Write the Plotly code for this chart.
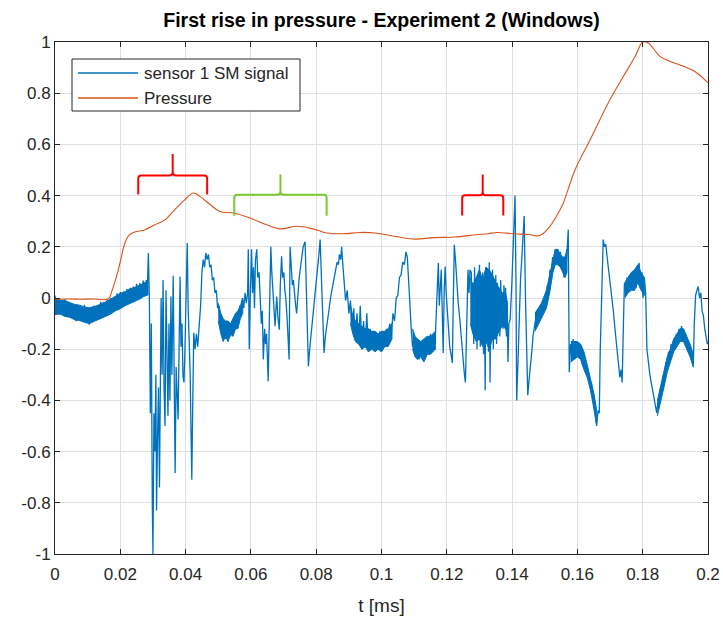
import plotly.graph_objects as go

# ---------------------------------------------------------------- data
# Pressure trace (normalised), sampled at irregular times [ms]
pressure_t = [0.000, 0.004, 0.008, 0.012, 0.0163, 0.0175, 0.0185, 0.0194, 0.0204,
              0.0214, 0.0225, 0.024, 0.0276, 0.0306, 0.0337, 0.0362, 0.038, 0.0398,
              0.0423, 0.0444, 0.0475, 0.0505, 0.0546, 0.0597, 0.0648, 0.069, 0.074,
              0.079, 0.0832, 0.0883, 0.0934, 0.098, 0.1045, 0.1103, 0.116, 0.1225,
              0.129, 0.1327, 0.1353, 0.1404, 0.1450, 0.1485, 0.1516, 0.1547, 0.1557,
              0.1593, 0.1639, 0.170, 0.1741, 0.1777, 0.180, 0.1817, 0.1853, 0.1884,
              0.1925, 0.1966, 0.200]
pressure_v = [-0.005, -0.004, -0.005, -0.004, -0.004, 0.03, 0.07, 0.11, 0.165,
              0.215, 0.243, 0.256, 0.267, 0.286, 0.305, 0.338, 0.362, 0.384,
              0.41, 0.397, 0.365, 0.338, 0.332, 0.3125, 0.286, 0.27, 0.28,
              0.27, 0.254, 0.251, 0.256, 0.254, 0.24, 0.23, 0.236, 0.238,
              0.247, 0.251, 0.256, 0.251, 0.248, 0.244, 0.28, 0.345, 0.371,
              0.501, 0.618, 0.775, 0.866, 0.944, 1.0, 0.996, 0.944, 0.924,
              0.905, 0.879, 0.84]

# Sensor signal before the pressure wave: uniform samples, 0.0005 ms apart from t = 0
sm_baseline_dt = 0.0005
sm_baseline = [0.010, -0.054, -0.005, -0.066, -0.010, -0.059, -0.005, -0.072, -0.027, -0.075,
               -0.020, -0.077, -0.030, -0.091, -0.027, -0.079, -0.038, -0.093, -0.027, -0.092,
               -0.040, -0.104, -0.035, -0.091, -0.030, -0.081, -0.028, -0.081, -0.015, -0.065,
               -0.015, -0.068, -0.005, -0.056, 0.000, -0.054, 0.005, -0.044, 0.018, -0.034,
               0.023, -0.032, 0.025, -0.025, 0.035, -0.016, 0.040, -0.014, 0.045, -0.003,
               0.055, 0.002, 0.058, 0.009, 0.068, 0.019, 0.070]

# Sensor signal after the wave arrives: (t [ms], value) pairs
sm_burst = [(0.0283, 0.05), (0.0286, 0.176), (0.0289, 0.00), (0.0292, -0.45), (0.0295, -0.10),
            (0.0298, -0.80), (0.0300, -1.0), (0.0303, -0.45), (0.0306, -0.60), (0.0309, -0.30),
            (0.0311, -0.83), (0.0314, -0.55), (0.0317, -0.35), (0.0320, -0.74), (0.0322, -0.40),
            (0.0325, 0.0), (0.0328, -0.30), (0.0331, 0.07), (0.0334, -0.35), (0.0337, -0.50),
            (0.0340, 0.03), (0.0343, -0.25), (0.0346, -0.46), (0.0349, -0.10), (0.0352, -0.40),
            (0.0355, 0.006), (0.0358, -0.30), (0.0362, 0.087), (0.0365, -0.35), (0.0368, -0.684),
            (0.0371, -0.27), (0.0374, -0.40), (0.0377, -0.475), (0.0380, -0.20), (0.0383, 0.084),
            (0.0386, -0.19), (0.0389, -0.10), (0.0392, -0.306), (0.0395, -0.33), (0.0398, -0.20),
            (0.0402, 0.0), (0.0405, 0.215), (0.0408, -0.046), (0.0411, -0.15), (0.0414, -0.30),
            (0.0417, -0.55), (0.0419, -0.71), (0.0422, -0.40), (0.0425, -0.136), (0.0429, -0.20),
            (0.0433, -0.14), (0.0437, -0.19), (0.0441, -0.11), (0.0446, -0.03), (0.0450, 0.10),
            (0.0454, 0.15), (0.0458, 0.12), (0.0462, 0.176)]

sm_hump = [(0.0466, 0.15), (0.0470, 0.17), (0.0474, 0.12), (0.0478, 0.13), (0.0482, 0.07),
           (0.0486, 0.08), (0.0490, 0.02), (0.0494, 0.03), (0.0498, -0.04), (0.0502, -0.03),
           (0.0506, -0.10), (0.0510, -0.07), (0.0514, -0.15), (0.0518, -0.09), (0.0522, -0.16),
           (0.0526, -0.10), (0.0530, -0.17), (0.0534, -0.11), (0.0538, -0.15), (0.0542, -0.09),
           (0.0546, -0.14), (0.0550, -0.08), (0.0554, -0.12), (0.0558, -0.06), (0.0562, -0.10),
           (0.0566, -0.03), (0.0570, -0.06), (0.0574, 0.00), (0.0578, -0.04), (0.0582, 0.02),
           (0.0586, -0.02)]

sm_oscill = [(0.0590, 0.02), (0.0592, 0.19), (0.0595, -0.20), (0.0598, 0.0), (0.0602, 0.19),
             (0.0605, 0.02), (0.0608, 0.12), (0.0611, -0.04), (0.0614, 0.15), (0.0618, 0.19),
             (0.0621, 0.08), (0.0625, 0.10), (0.0628, 0.0), (0.0632, -0.10), (0.0635, -0.05),
             (0.0638, -0.24), (0.0642, -0.12), (0.0645, -0.18), (0.0648, -0.14), (0.0651, -0.25),
             (0.0653, -0.325), (0.0657, -0.05), (0.0661, 0.20), (0.0664, 0.10), (0.0667, 0.02),
             (0.0671, -0.06), (0.0674, -0.11), (0.0677, -0.04), (0.0679, 0.006), (0.0683, -0.08),
             (0.0687, -0.124), (0.0690, 0.05), (0.0694, 0.163), (0.0697, 0.08), (0.0701, 0.10),
             (0.0704, 0.03), (0.0707, 0.0), (0.0711, -0.08), (0.0715, -0.163), (0.0717, -0.24),
             (0.0720, 0.20), (0.0723, 0.12), (0.0727, 0.05), (0.0730, 0.07), (0.0734, 0.0),
             (0.0737, -0.03), (0.0740, -0.06), (0.0744, 0.02), (0.0748, 0.08), (0.0752, 0.12),
             (0.0756, 0.17), (0.0760, 0.20), (0.0766, 0.22), (0.0769, 0.10), (0.0772, -0.08),
             (0.0776, -0.267), (0.0780, -0.20), (0.0784, -0.15), (0.0788, -0.08), (0.0792, -0.03),
             (0.0796, 0.02), (0.0799, 0.04), (0.0802, 0.07), (0.0806, 0.13), (0.0809, 0.18),
             (0.0812, 0.228), (0.0815, 0.10), (0.0818, -0.05), (0.0821, -0.17), (0.0824, -0.215),
             (0.0828, -0.15), (0.0832, -0.11), (0.0836, -0.06), (0.0840, -0.03), (0.0844, 0.0),
             (0.0848, 0.03), (0.0852, 0.06), (0.0856, 0.08), (0.0860, 0.11), (0.0864, 0.14),
             (0.0868, 0.13), (0.0871, 0.17), (0.0875, 0.15), (0.0878, 0.20), (0.0881, 0.14),
             (0.0884, 0.10), (0.0887, 0.06)]

sm_plateau = [(0.0890, -0.01), (0.0895, 0.03), (0.0900, -0.06), (0.0905, -0.01), (0.0910, -0.12),
              (0.0915, -0.04), (0.0920, -0.16), (0.0925, -0.06), (0.0930, -0.18), (0.0935, -0.03),
              (0.0940, -0.20), (0.0945, -0.09), (0.0950, -0.19), (0.0955, -0.06), (0.0960, -0.21),
              (0.0965, -0.12), (0.0970, -0.20), (0.0975, -0.13), (0.0980, -0.21), (0.0985, -0.14),
              (0.0990, -0.20), (0.0995, -0.13), (0.1000, -0.21), (0.1005, -0.14), (0.1010, -0.19),
              (0.1015, -0.12), (0.1020, -0.17), (0.1025, -0.10), (0.1030, -0.15)]

sm_mid = [(0.1035, -0.06), (0.1040, -0.09), (0.1045, 0.00), (0.1050, 0.01), (0.1055, 0.08),
          (0.1060, 0.09), (0.1065, 0.14), (0.1070, 0.13), (0.1075, 0.18), (0.1079, 0.16),
          (0.1083, 0.07), (0.1087, -0.05), (0.1091, -0.12), (0.1095, -0.19), (0.1100, -0.15),
          (0.1105, -0.23), (0.1110, -0.17), (0.1115, -0.24), (0.1120, -0.18), (0.1125, -0.23),
          (0.1130, -0.16), (0.1135, -0.22), (0.1140, -0.15), (0.1145, -0.21), (0.1150, -0.14),
          (0.1155, -0.20), (0.1160, -0.14), (0.1164, -0.18), (0.1168, -0.06), (0.1171, 0.08),
          (0.1174, 0.137), (0.1177, -0.03), (0.1180, 0.04), (0.1183, 0.11), (0.1186, -0.05),
          (0.1189, -0.215), (0.1192, 0.03), (0.1195, 0.123), (0.1198, 0.02), (0.1201, -0.04),
          (0.1205, -0.12), (0.1209, -0.19), (0.1213, -0.22), (0.1217, -0.254), (0.1220, 0.00),
          (0.1223, 0.208), (0.1227, 0.14), (0.1231, 0.05), (0.1235, -0.02), (0.1240, -0.085),
          (0.1245, -0.17), (0.1250, -0.25), (0.1254, -0.30), (0.1257, -0.33), (0.1261, -0.10),
          (0.1265, 0.11), (0.1268, 0.02), (0.1271, 0.11)]

sm_dense = [(0.12750, 0.10), (0.12775, -0.12), (0.12800, 0.06), (0.12825, -0.18), (0.12850, 0.12),
            (0.12875, -0.10), (0.12900, 0.02), (0.12925, -0.20), (0.12950, 0.08), (0.12975, -0.15),
            (0.13000, 0.13), (0.13025, -0.19), (0.13050, 0.05), (0.13075, -0.14), (0.13100, 0.10),
            (0.13125, -0.22), (0.13150, 0.06), (0.13175, -0.36), (0.13200, 0.12), (0.13225, -0.17),
            (0.13250, 0.04), (0.13275, -0.21), (0.13300, 0.14), (0.13325, -0.33), (0.13350, 0.08),
            (0.13375, -0.16), (0.13400, 0.11), (0.13425, -0.20), (0.13450, 0.03), (0.13475, -0.13),
            (0.13500, 0.09), (0.13525, -0.18), (0.13550, 0.06), (0.13575, -0.12), (0.13600, 0.04),
            (0.13625, -0.15), (0.13650, 0.07), (0.13675, -0.10), (0.13700, 0.02), (0.13725, -0.12),
            (0.13750, 0.05), (0.13775, -0.08), (0.13800, 0.04), (0.13825, -0.15), (0.13850, -0.05),
            (0.13875, -0.25), (0.13900, -0.10)]

sm_spikes = [(0.1394, -0.085), (0.1399, 0.05), (0.1404, 0.22), (0.1409, 0.40), (0.1412, 0.05),
             (0.1414, -0.40), (0.1418, -0.25), (0.1422, -0.05), (0.1426, 0.08), (0.1430, 0.16),
             (0.1434, 0.25), (0.1437, 0.32), (0.1441, 0.0), (0.1445, -0.25), (0.1448, -0.38),
             (0.1452, -0.32), (0.1456, -0.25), (0.1460, -0.215), (0.1464, -0.15), (0.1468, -0.11),
             (0.1472, -0.085), (0.1476, -0.05), (0.1480, -0.07), (0.1484, -0.04)]

sm_tail = [(0.1488, -0.08), (0.1492, -0.02), (0.1496, -0.06), (0.1500, 0.01), (0.1504, -0.02),
           (0.1508, 0.05), (0.1512, 0.02), (0.1516, 0.11), (0.1520, 0.08), (0.1524, 0.16),
           (0.1528, 0.13), (0.1532, 0.19), (0.1536, 0.14), (0.1540, 0.19), (0.1544, 0.14),
           (0.1548, 0.18), (0.1552, 0.12), (0.1556, 0.15), (0.1559, 0.08), (0.1562, 0.16),
           (0.1565, 0.11), (0.1568, 0.20), (0.1572, 0.267), (0.1575, -0.29), (0.1579, -0.18),
           (0.1583, -0.23), (0.1587, -0.16), (0.1591, -0.24), (0.1595, -0.17), (0.1599, -0.22),
           (0.1603, -0.18), (0.1607, -0.23), (0.1611, -0.19), (0.1615, -0.26), (0.1619, -0.22),
           (0.1623, -0.28), (0.1627, -0.26), (0.1631, -0.31), (0.1635, -0.30), (0.1639, -0.34),
           (0.1643, -0.33), (0.1647, -0.39), (0.1651, -0.38), (0.1655, -0.45), (0.1659, -0.50),
           (0.1663, -0.44), (0.1667, -0.45), (0.1670, -0.20), (0.1674, 0.05), (0.1679, 0.228),
           (0.1683, 0.20), (0.1687, 0.21), (0.1691, 0.16), (0.1695, 0.12), (0.1700, 0.07),
           (0.1705, 0.02), (0.1710, -0.05), (0.1715, -0.12), (0.1720, -0.18), (0.1725, -0.26),
           (0.1730, -0.31), (0.1734, -0.28), (0.1737, -0.33), (0.1741, -0.10), (0.1744, 0.059),
           (0.1748, 0.02), (0.1752, 0.08), (0.1756, 0.03), (0.1760, 0.09), (0.1764, 0.04),
           (0.1768, 0.10), (0.1772, 0.05), (0.1776, 0.11), (0.1780, 0.04), (0.1784, 0.12),
           (0.1789, 0.137), (0.1793, 0.04), (0.1797, 0.10), (0.1801, 0.0), (0.1805, 0.08),
           (0.1809, 0.02), (0.1813, -0.20), (0.1817, -0.25), (0.1822, -0.30), (0.1826, -0.33),
           (0.1830, -0.36), (0.1834, -0.38), (0.1838, -0.42), (0.1843, -0.449), (0.1847, -0.40),
           (0.1851, -0.41), (0.1855, -0.35), (0.1859, -0.36), (0.1863, -0.30), (0.1867, -0.31),
           (0.1871, -0.25), (0.1875, -0.27), (0.1879, -0.21), (0.1883, -0.23), (0.1887, -0.18),
           (0.1891, -0.20), (0.1895, -0.16), (0.1899, -0.18), (0.1903, -0.14), (0.1907, -0.17),
           (0.1911, -0.12), (0.1915, -0.15), (0.1919, -0.11), (0.1923, -0.15), (0.1927, -0.13),
           (0.1931, -0.18), (0.1935, -0.17), (0.1939, -0.21), (0.1943, -0.19), (0.1947, -0.23),
           (0.1951, -0.22), (0.1955, -0.26), (0.1958, -0.10), (0.1962, 0.01), (0.1966, 0.03),
           (0.1970, 0.045), (0.1974, 0.00), (0.1978, 0.02), (0.1982, -0.05), (0.1986, -0.07),
           (0.1990, -0.12), (0.1994, -0.15), (0.1998, -0.18), (0.2000, -0.17)]

# Noise envelope of the sensor signal on its quieter stretches: (t, lower, upper)
sm_noise_bands = [
    [(0.0000, -0.065, 0.000), (0.0015, -0.062, -0.008), (0.0030, -0.072, -0.010),
     (0.0045, -0.075, -0.018), (0.0060, -0.085, -0.025), (0.0075, -0.088, -0.028),
     (0.0090, -0.095, -0.035), (0.0105, -0.100, -0.038), (0.0115, -0.095, -0.035),
     (0.0130, -0.088, -0.030), (0.0140, -0.082, -0.022), (0.0155, -0.072, -0.016),
     (0.0170, -0.063, -0.005), (0.0185, -0.050, 0.008), (0.0200, -0.042, 0.018),
     (0.0215, -0.030, 0.025), (0.0230, -0.022, 0.036), (0.0245, -0.012, 0.042),
     (0.0260, -0.004, 0.052), (0.0272, 0.006, 0.060), (0.0285, 0.012, 0.066)],
    [(0.0500, -0.09, -0.02), (0.0508, -0.14, -0.06), (0.0515, -0.17, -0.08),
     (0.0522, -0.15, -0.09), (0.0530, -0.17, -0.09), (0.0538, -0.14, -0.10),
     (0.0545, -0.15, -0.08), (0.0553, -0.12, -0.06), (0.0560, -0.12, -0.05),
     (0.0568, -0.08, -0.03), (0.0575, -0.06, 0.00)],
    [(0.0905, -0.10, -0.03), (0.0912, -0.14, -0.07), (0.0920, -0.17, -0.09),
     (0.0930, -0.18, -0.10), (0.0940, -0.20, -0.11), (0.0950, -0.19, -0.12),
     (0.0960, -0.21, -0.12), (0.0970, -0.20, -0.13), (0.0980, -0.21, -0.13),
     (0.0990, -0.20, -0.14), (0.1000, -0.21, -0.13), (0.1010, -0.19, -0.13),
     (0.1020, -0.19, -0.12), (0.1032, -0.16, -0.10)],
    [(0.1095, -0.20, -0.12), (0.1103, -0.23, -0.15), (0.1110, -0.24, -0.16),
     (0.1120, -0.23, -0.17), (0.1130, -0.25, -0.16), (0.1140, -0.22, -0.15),
     (0.1150, -0.22, -0.15), (0.1165, -0.20, -0.13)],
    [(0.1272, -0.10, 0.08), (0.1280, -0.14, 0.05), (0.1290, -0.17, 0.08),
     (0.1300, -0.16, 0.11), (0.1310, -0.19, 0.07), (0.1320, -0.17, 0.12),
     (0.1330, -0.20, 0.11), (0.1340, -0.16, 0.09), (0.1350, -0.16, 0.06),
     (0.1360, -0.13, 0.04), (0.1370, -0.11, 0.02), (0.1380, -0.12, 0.02),
     (0.1386, -0.14, -0.02)],
    [(0.1470, -0.13, -0.06), (0.1480, -0.10, -0.04), (0.1490, -0.08, -0.02),
     (0.1505, -0.04, 0.03), (0.1515, 0.02, 0.09), (0.1525, 0.10, 0.16),
     (0.1532, 0.13, 0.19), (0.1540, 0.13, 0.19), (0.1548, 0.12, 0.17),
     (0.1555, 0.10, 0.16), (0.1562, 0.08, 0.16), (0.1568, 0.10, 0.19)],
    [(0.1580, -0.25, -0.17), (0.1590, -0.24, -0.17), (0.1600, -0.23, -0.17),
     (0.1610, -0.24, -0.18), (0.1620, -0.28, -0.21), (0.1630, -0.31, -0.26),
     (0.1640, -0.36, -0.31), (0.1650, -0.43, -0.37), (0.1658, -0.49, -0.43)],
    [(0.1745, 0.00, 0.06), (0.1755, 0.02, 0.08), (0.1765, 0.03, 0.10),
     (0.1775, 0.03, 0.11), (0.1785, 0.06, 0.13), (0.1795, 0.03, 0.10),
     (0.1805, 0.01, 0.08)],
    [(0.1845, -0.46, -0.40), (0.1855, -0.40, -0.34), (0.1865, -0.35, -0.29),
     (0.1875, -0.29, -0.23), (0.1885, -0.25, -0.20), (0.1895, -0.21, -0.16),
     (0.1905, -0.19, -0.14), (0.1915, -0.17, -0.12), (0.1925, -0.17, -0.12),
     (0.1935, -0.20, -0.15), (0.1945, -0.23, -0.18), (0.1955, -0.27, -0.22)],
]

# Curly-brace markers over the pressure curve: (t_start, t_end, y_ends, y_bar, y_tip, colour)
brace_marks = [(0.0255, 0.0466, 0.404, 0.479, 0.5625, "#FF0000"),
               (0.0549, 0.0832, 0.3215, 0.4035, 0.482, "#7CC832"),
               (0.1247, 0.1373, 0.3227, 0.401, 0.482, "#FF0000")]

x_ticks = [0, 0.02, 0.04, 0.06, 0.08, 0.1, 0.12, 0.14, 0.16, 0.18, 0.2]
x_tick_labels = ["0", "0.02", "0.04", "0.06", "0.08", "0.1", "0.12", "0.14", "0.16", "0.18", "0.2"]
y_ticks = [-1, -0.8, -0.6, -0.4, -0.2, 0, 0.2, 0.4, 0.6, 0.8, 1]
y_tick_labels = ["-1", "-0.8", "-0.6", "-0.4", "-0.2", "0", "0.2", "0.4", "0.6", "0.8", "1"]

SIGNAL_NAME = "sensor 1 SM signal"
PRESSURE_NAME = "Pressure"

# ---------------------------------------------------------------- assemble signal
sm_t = [i * sm_baseline_dt for i in range(len(sm_baseline))]
sm_v = list(sm_baseline)
for block in (sm_burst, sm_hump, sm_oscill, sm_plateau, sm_mid, sm_dense, sm_spikes, sm_tail):
    for t, v in block:
        sm_t.append(t)
        sm_v.append(v)

FONT = "Liberation Sans, Arial, Helvetica, sans-serif"
AXIS_DARK = "#262626"
GRID = "#DFDFDF"
BLUE = "#0072BD"
ORANGE = "#D95319"

# plot-area geometry in pixels (used for the boxed legend placement)
W, H = 723, 620
ML, MR, MT, MB = 55, 15, 42, 66
PW, PH = W - ML - MR, H - MT - MB


def px_x(p):
    return (p - ML) / PW


def px_y(p):
    return 1 - (p - MT) / PH


fig = go.Figure()

# filled noise envelopes (drawn under the signal line)
for band in sm_noise_bands:
    bt = [p[0] for p in band]
    lo = [p[1] for p in band]
    hi = [p[2] for p in band]
    fig.add_trace(go.Scatter(x=bt + bt[::-1], y=hi + lo[::-1], fill="toself",
                             fillcolor=BLUE, mode="lines",
                             line=dict(color=BLUE, width=1),
                             showlegend=False, hoverinfo="skip"))

fig.add_trace(go.Scatter(x=sm_t, y=sm_v, mode="lines", name=SIGNAL_NAME,
                         line=dict(color=BLUE, width=1.3), showlegend=False))
fig.add_trace(go.Scatter(x=pressure_t, y=pressure_v, mode="lines", name=PRESSURE_NAME,
                         line=dict(color=ORANGE, width=1.1, shape="spline"), showlegend=False))

# braces drawn as SVG paths in data coordinates
rx, ry = 0.0009, 0.012
for x0, x1, ye, yb, yt, col in brace_marks:
    xc = 0.5 * (x0 + x1)
    path = (f"M {x0},{ye} L {x0},{yb - ry} Q {x0},{yb} {x0 + rx},{yb} "
            f"L {xc - rx},{yb} Q {xc},{yb} {xc},{yb + ry} L {xc},{yt} "
            f"M {xc},{yb + ry} Q {xc},{yb} {xc + rx},{yb} "
            f"L {x1 - rx},{yb} Q {x1},{yb} {x1},{yb - ry} L {x1},{ye}")
    fig.add_shape(type="path", path=path, xref="x", yref="y",
                  line=dict(color=col, width=2))

# boxed legend in the upper-left corner of the axes
fig.add_shape(type="rect", xref="paper", yref="paper",
              x0=px_x(72), x1=px_x(300), y0=px_y(111), y1=px_y(59),
              line=dict(color=AXIS_DARK, width=1), fillcolor="white", layer="above")
for row_y, name, col in ((73, SIGNAL_NAME, BLUE), (98, PRESSURE_NAME, ORANGE)):
    fig.add_shape(type="line", xref="paper", yref="paper",
                  x0=px_x(78), x1=px_x(138), y0=px_y(row_y), y1=px_y(row_y),
                  line=dict(color=col, width=1.5), layer="above")
    fig.add_annotation(xref="paper", yref="paper", x=px_x(142), y=px_y(row_y),
                       xanchor="left", yanchor="middle", showarrow=False, text=name,
                       font=dict(family=FONT, size=17, color=AXIS_DARK))

axis_common = dict(
    showline=True, linecolor=AXIS_DARK, linewidth=1, mirror="ticks",
    ticks="inside", ticklen=5, tickcolor=AXIS_DARK, tickwidth=1,
    showgrid=True, gridcolor=GRID, gridwidth=1, zeroline=False, automargin=False,
    tickfont=dict(family=FONT, size=17, color=AXIS_DARK),
)

fig.update_xaxes(range=[0, 0.2], tickvals=x_ticks, ticktext=x_tick_labels,
                 ticklabelstandoff=5,
                 title=dict(text="t [ms]", font=dict(family=FONT, size=19, color=AXIS_DARK),
                            standoff=15),
                 **axis_common)
fig.update_yaxes(range=[-1, 1], tickvals=y_ticks, ticktext=y_tick_labels, **axis_common)

fig.update_layout(
    width=W, height=H,
    margin=dict(l=ML, r=MR, t=MT, b=MB),
    paper_bgcolor="white", plot_bgcolor="white",
    title=dict(text="<b>First rise in pressure - Experiment 2 (Windows)</b>",
               x=0.5, xref="paper", xanchor="center",
               y=1 - 20 / H, yref="container", yanchor="middle",
               font=dict(family=FONT, size=19.5, color="#000000")),
    showlegend=False,
)

fig.write_html("out.html")
